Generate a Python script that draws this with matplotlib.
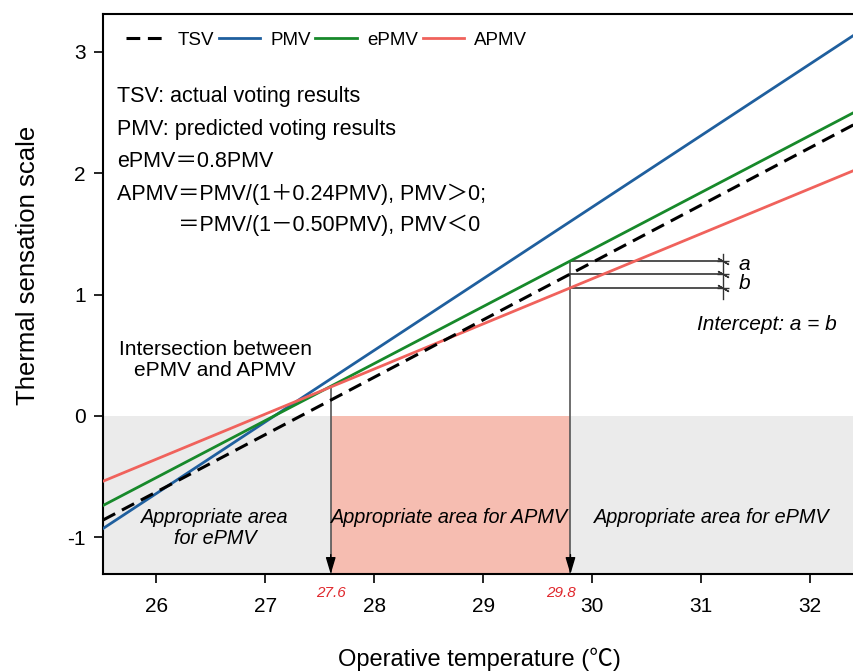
import numpy as np
import matplotlib.pyplot as plt

plt.rcParams['font.family'] = ['Liberation Sans', 'Noto Sans CJK SC', 'DejaVu Sans']
plt.rcParams['axes.unicode_minus'] = False

# straight-line fits of thermal sensation vs operative temperature (end points)
temp_ends = [25.51, 32.42]
tsv = [-0.86, 2.41]
pmv = [-0.93, 3.15]
epmv = [-0.74, 2.51]
apmv = [-0.54, 2.03]

# temperatures bounding the APMV zone
t_low = 27.6
t_high = 29.8
x_ticks = [26, 27, 28, 29, 30, 31, 32]
y_ticks = [-1, 0, 1, 2, 3]

xmin, xmax = 25.51, 32.42
ymin, ymax = -1.305, 3.313

fig = plt.figure(figsize=(8.54, 6.72), dpi=100)
ax = fig.add_axes([0.1206, 0.1458, 0.8817, 0.8333])
ax.set_xlim(xmin, xmax)
ax.set_ylim(ymin, ymax)

# shaded zones below neutral
ax.axhspan(ymin, 0, color='#ebebeb', zorder=0, lw=0)
ax.fill_between([t_low, t_high], ymin, 0, color='#f6bdb1', zorder=0.5, lw=0)

l_tsv, = ax.plot(temp_ends, tsv, color='black', lw=2.2, ls=(0, (4.5, 2.5)), zorder=4)
l_pmv, = ax.plot(temp_ends, pmv, color='#1f5f9e', lw=2.0, zorder=3)
l_epmv, = ax.plot(temp_ends, epmv, color='#17892a', lw=2.0, zorder=3)
l_apmv, = ax.plot(temp_ends, apmv, color='#f0625c', lw=2.0, zorder=3)

ax.legend([l_tsv, l_pmv, l_epmv, l_apmv], ['TSV', 'PMV', 'ePMV', 'APMV'],
          loc='center left', bbox_to_anchor=(0.018, 0.9536), ncol=4,
          frameon=False, borderpad=0, handlelength=2.2, handletextpad=0.55,
          columnspacing=0.25, fontsize=13.5)

# values of the lines at the two boundary temperatures
y_cross = np.interp(t_low, temp_ends, epmv)
levels = [np.interp(t_high, temp_ends, s) for s in (epmv, tsv, apmv)]

# drop lines with arrow heads down to the axis
ax.plot([t_low, t_low], [y_cross, ymin], color='#555555', lw=1.2, zorder=2)
ax.plot([t_high, t_high], [levels[0], ymin], color='#555555', lw=1.2, zorder=2)
for t in (t_low, t_high):
    ax.annotate('', xy=(t, ymin), xytext=(t, ymin + 0.16),
                arrowprops=dict(arrowstyle='-|>,head_length=1.0,head_width=0.3',
                                color='black', lw=1.0, mutation_scale=10,
                                shrinkA=0, shrinkB=0), zorder=5)

# a / b dimension marks
x_dim = 31.2
for lv in levels:
    ax.plot([t_high, x_dim], [lv, lv], color='#333333', lw=1.2, zorder=2)
ax.plot([x_dim, x_dim], [levels[2] - 0.09, levels[0] + 0.06], color='#333333', lw=1.0)
ax.plot([x_dim] * 3, levels, ls='none', marker=(2, 2, 60), ms=9,
        mec='#333333', mew=1.0)
ax.plot([x_dim] * 3, levels, ls='none', marker='_', ms=8,
        mec='#333333', mew=1.0)
ax.text(x_dim + 0.14, 1.25, 'a', style='italic', fontsize=15, va='center')
ax.text(x_dim + 0.14, 1.09, 'b', style='italic', fontsize=15, va='center')
ax.text(31.6, 0.75, 'Intercept: a = b', style='italic', fontsize=15,
        ha='center', va='center')

# definitions block
notes = ['TSV: actual voting results',
         'PMV: predicted voting results',
         'ePMV＝0.8PMV',
         'APMV＝PMV/(1＋0.24PMV), PMV＞0;']
note_y = [2.629, 2.357, 2.101, 1.829]
for s, yy in zip(notes, note_y):
    ax.text(25.64, yy, s, fontsize=15.5, va='center')
ax.text(26.2, 1.574, '＝PMV/(1－0.50PMV), PMV＜0', fontsize=15.5, va='center')

ax.text(26.54, 0.46, 'Intersection between\nePMV and APMV', fontsize=15,
        ha='center', va='center', linespacing=1.1)

ax.text(26.54, -0.925, 'Appropriate area\nfor ePMV', style='italic', fontsize=14.3,
        ha='center', va='center', linespacing=1.15)
ax.text(28.69, -0.84, 'Appropriate area for APMV', style='italic', fontsize=14.3,
        ha='center', va='center')
ax.text(31.1, -0.84, 'Appropriate area for ePMV', style='italic', fontsize=14.3,
        ha='center', va='center')

# red boundary values under the axis
trans = ax.get_xaxis_transform()
ax.text(t_low, -0.034, '27.6', color='#e0282d', style='italic', fontsize=11,
        ha='center', va='center', transform=trans)
ax.text(t_high + 0.05, -0.034, '29.8', color='#e0282d', style='italic', fontsize=11,
        ha='right', va='center', transform=trans)

ax.set_xticks(x_ticks)
ax.set_yticks(y_ticks)
ax.tick_params(direction='out', length=6.5, width=1.2, labelsize=15)
ax.tick_params(axis='x', pad=10)
ax.tick_params(axis='y', pad=6)
for sp in ax.spines.values():
    sp.set_linewidth(1.5)

ax.set_xlabel('Operative temperature (℃)', fontsize=17)
ax.xaxis.set_label_coords(0.5, -0.132)
ax.set_ylabel('Thermal sensation scale', fontsize=18.5)
ax.yaxis.set_label_coords(-0.0837, 0.552)

fig.savefig('out.png', dpi=100)
